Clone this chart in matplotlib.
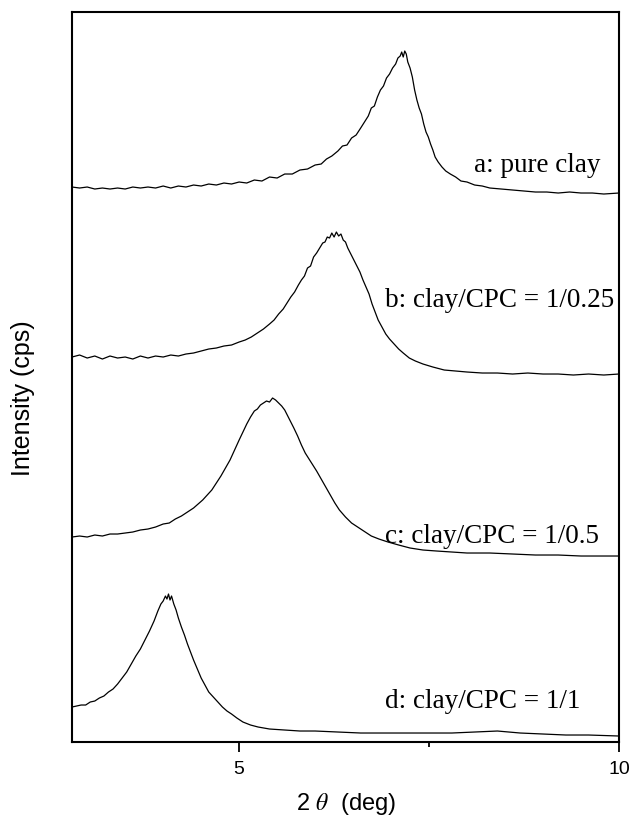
import matplotlib
matplotlib.use("Agg")
import matplotlib.pyplot as plt
from matplotlib.ticker import FixedLocator

plt.rcParams["font.family"] = ["Liberation Sans", "DejaVu Sans"]
plt.rcParams["mathtext.fontset"] = "stix"

# --- data (2 theta in deg, intensity in arbitrary stacked units) ---
tt_a = [2.80, 2.90, 3.00, 3.10, 3.20, 3.30, 3.40, 3.50, 3.60, 3.70, 3.80, 3.90, 4.00, 4.10,
        4.20, 4.30, 4.40, 4.50, 4.60, 4.70, 4.80, 4.90, 5.00, 5.10, 5.20, 5.30, 5.40, 5.50,
        5.60, 5.70, 5.80, 5.90, 6.00, 6.08, 6.15, 6.22, 6.30, 6.36, 6.42, 6.48, 6.54, 6.60,
        6.65, 6.70, 6.74, 6.78, 6.82, 6.86, 6.90, 6.94, 6.98, 7.02, 7.06, 7.09, 7.12, 7.14,
        7.16, 7.18, 7.20, 7.22, 7.25, 7.28, 7.31, 7.34, 7.37, 7.40, 7.43, 7.46, 7.49, 7.52,
        7.55, 7.58, 7.62, 7.67, 7.72, 7.78, 7.85, 7.92, 8.00, 8.10, 8.20, 8.30, 8.45, 8.60,
        8.75, 8.90, 9.05, 9.20, 9.35, 9.50, 9.65, 9.80, 10.00]
int_a = [555, 554, 555, 553, 554, 553, 554, 553, 555, 554, 555, 554, 556, 554,
         556, 555, 557, 556, 558, 557, 559, 558, 560, 559, 562, 561, 565, 564,
         568, 568, 572, 573, 577, 578, 583, 586, 591, 596, 597, 604, 607, 614,
         620, 626, 634, 636, 645, 652, 656, 664, 668, 674, 678, 684, 686, 690,
         685, 691, 688, 680, 674, 665, 652, 642, 634, 628, 618, 610, 605, 598,
         592, 585, 580, 575, 571, 568, 565, 561, 560, 557, 556, 554, 553, 552,
         551, 550, 550, 549, 550, 549, 549, 548, 549]

tt_b = [2.80, 2.90, 3.00, 3.10, 3.20, 3.30, 3.40, 3.50, 3.60, 3.70, 3.80, 3.90, 4.00, 4.10,
        4.20, 4.30, 4.40, 4.50, 4.60, 4.70, 4.80, 4.90, 5.00, 5.08, 5.16, 5.24, 5.32, 5.40,
        5.46, 5.52, 5.58, 5.63, 5.68, 5.73, 5.78, 5.82, 5.86, 5.90, 5.94, 5.98, 6.02, 6.06,
        6.10, 6.13, 6.16, 6.19, 6.22, 6.25, 6.28, 6.31, 6.34, 6.37, 6.40, 6.43, 6.47, 6.51,
        6.55, 6.59, 6.63, 6.67, 6.71, 6.75, 6.79, 6.83, 6.88, 6.93, 6.98, 7.04, 7.10, 7.16,
        7.24, 7.32, 7.42, 7.55, 7.70, 7.85, 8.00, 8.20, 8.40, 8.60, 8.80, 9.00, 9.20, 9.40,
        9.60, 9.80, 10.00]
int_b = [385, 387, 384, 386, 383, 386, 384, 385, 383, 386, 384, 386, 385, 387,
         386, 388, 389, 391, 393, 394, 396, 397, 400, 402, 405, 409, 413, 418,
         422, 428, 433, 439, 445, 450, 457, 462, 466, 474, 476, 485, 489, 494,
         499, 500, 505, 504, 509, 505, 510, 506, 508, 502, 500, 494, 488, 482,
         476, 470, 462, 455, 448, 438, 430, 422, 415, 408, 403, 398, 393, 389,
         384, 381, 378, 375, 372, 371, 370, 369, 369, 368, 369, 368, 368, 367,
         368, 367, 368]

tt_c = [2.80, 2.90, 3.00, 3.10, 3.20, 3.30, 3.40, 3.50, 3.60, 3.70, 3.80, 3.90, 4.00, 4.08,
        4.16, 4.24, 4.32, 4.40, 4.46, 4.52, 4.58, 4.64, 4.70, 4.76, 4.82, 4.88, 4.94, 5.00,
        5.05, 5.10, 5.15, 5.20, 5.24, 5.28, 5.32, 5.36, 5.40, 5.44, 5.48, 5.52, 5.56, 5.60,
        5.64, 5.68, 5.72, 5.77, 5.82, 5.87, 5.92, 5.97, 6.02, 6.08, 6.14, 6.20, 6.26, 6.32,
        6.40, 6.48, 6.56, 6.64, 6.74, 6.84, 6.96, 7.10, 7.25, 7.42, 7.60, 7.80, 8.00, 8.30,
        8.60, 8.90, 9.20, 9.50, 9.80, 10.00]
int_c = [205, 206, 205, 207, 206, 208, 208, 209, 210, 212, 213, 215, 218, 219,
         223, 226, 230, 234, 238, 242, 247, 252, 259, 266, 274, 282, 292, 302,
         310, 318, 325, 331, 333, 337, 339, 341, 340, 344, 342, 339, 336, 332,
         326, 320, 314, 306, 297, 289, 283, 277, 271, 263, 255, 247, 239, 232,
         225, 219, 215, 211, 206, 203, 200, 197, 194, 192, 191, 190, 189, 189,
         188, 187, 187, 186, 186, 186]

tt_d = [2.80, 2.86, 2.92, 2.98, 3.04, 3.10, 3.16, 3.22, 3.28, 3.34, 3.40, 3.46, 3.52, 3.58,
        3.64, 3.70, 3.76, 3.82, 3.88, 3.93, 3.97, 4.00, 4.03, 4.05, 4.07, 4.09, 4.11, 4.14,
        4.17, 4.20, 4.24, 4.28, 4.32, 4.36, 4.40, 4.45, 4.50, 4.55, 4.60, 4.66, 4.72, 4.78,
        4.84, 4.90, 4.97, 5.05, 5.15, 5.25, 5.40, 5.60, 5.80, 6.00, 6.30, 6.60, 7.00, 7.40,
        7.80, 8.10, 8.40, 8.70, 9.00, 9.30, 9.60, 10.00]
int_d = [35, 36, 37, 37, 40, 41, 44, 46, 50, 53, 58, 64, 70, 78,
         86, 93, 102, 111, 121, 131, 138, 141, 146, 143, 148, 142, 146, 138,
         132, 124, 115, 107, 98, 90, 82, 73, 64, 57, 50, 45, 40, 35,
         31, 28, 24, 20, 17, 15, 13, 12, 11, 11, 10, 9, 9, 9,
         9, 10, 11, 9, 8, 7, 7, 6]

labels = ["a: pure clay", "b: clay/CPC = 1/0.25", "c: clay/CPC = 1/0.5", "d: clay/CPC = 1/1"]
label_x = [8.09, 6.92, 6.92, 6.92]
label_y = [570, 435, 199, 34]

fig = plt.figure(figsize=(6.3, 8.23), dpi=100)
ax = fig.add_axes([0.1143, 0.0984, 0.8682, 0.8870])

for tt, inten in [(tt_a, int_a), (tt_b, int_b), (tt_c, int_c), (tt_d, int_d)]:
    ax.plot(tt, inten, color="black", lw=0.9)

for s, x, y in zip(labels, label_x, label_y):
    ax.text(x, y, s, ha="left", va="baseline", fontsize=19.5,
            family=["Liberation Serif", "DejaVu Serif"])

ax.set_xlim(2.8, 10)
ax.set_ylim(0, 730)
ax.set_xticks([5, 10])
ax.xaxis.set_minor_locator(FixedLocator([7.5]))
ax.set_yticks([])
ax.tick_params(axis="x", which="major", direction="out", length=7, width=1.3,
               labelsize=14, pad=7)
ax.tick_params(axis="x", which="minor", direction="out", length=3.5, width=1.3)
for sp in ax.spines.values():
    sp.set_linewidth(1.5)

ax.set_xlabel(r"2 $\theta$  (deg)", fontsize=17, labelpad=9)
ax.set_ylabel("Intensity (cps)", fontsize=18)
ax.yaxis.set_label_coords(-0.068, 0.471)

fig.savefig("out.png", dpi=100)
